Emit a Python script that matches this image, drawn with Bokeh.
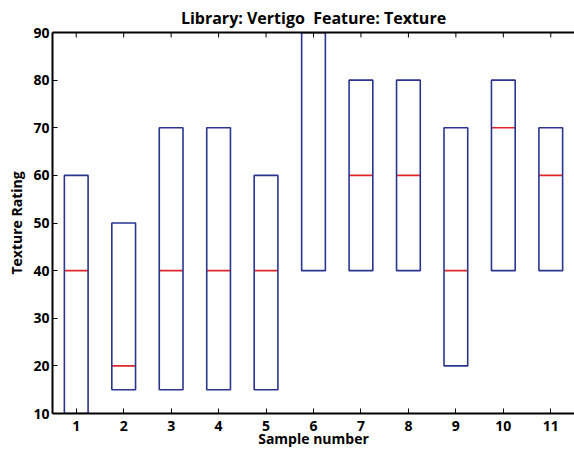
import math
from bokeh.plotting import figure
from bokeh.models import ColumnDataSource, Range1d, FixedTicker, Title, LinearAxis
from bokeh.transform import dodge
from bokeh.embed import file_html
from bokeh.resources import INLINE

# Data
samples = [1, 2, 3, 4, 5, 6, 7, 8, 9, 10, 11]
q1 = [10, 15, 15, 15, 15, 40, 40, 40, 20, 40, 40]
median = [40, 20, 40, 40, 40, 90, 60, 60, 40, 70, 60]
q3 = [60, 50, 70, 70, 60, 90, 80, 80, 70, 80, 70]
y_ticks = [10, 20, 30, 40, 50, 60, 70, 80, 90]

title_text = "Library: Vertigo\u00a0 Feature: Texture"
x_label = "Sample number"
y_label = "Texture Rating"

BOX = "#2a3590"
MED = "#e0262b"
FONT = "Open Sans"

x_lo, x_hi = samples[0] - 0.5, samples[-1] + 0.5
src = ColumnDataSource(dict(x=samples, q1=q1, med=median, q3=q3))
top_src = ColumnDataSource(dict(x=samples, y=[y_ticks[-1]] * len(samples)))

p = figure(
    frame_width=522, frame_height=381,
    x_range=Range1d(x_lo, x_hi), y_range=Range1d(y_ticks[0], y_ticks[-1]),
    output_backend="svg", toolbar_location=None, title=None,
    min_border_left=52, min_border_right=0, min_border_top=31, min_border_bottom=37,
)
p.outline_line_color = None
p.background_fill_color = "white"
p.border_fill_color = "white"
p.xgrid.visible = False
p.ygrid.visible = False

# medians then boxes
p.segment(x0=dodge("x", -0.25), x1=dodge("x", 0.25), y0="med", y1="med",
          source=src, line_color=MED, line_width=1.6)
p.vbar(x="x", width=0.5, bottom="q1", top="q3", source=src,
       fill_color=None, line_color=BOX, line_width=1.6)

# inward tick marks on the top spine (clipped by the frame)
p.scatter(x="x", y="y", source=top_src, marker="dash", angle=math.pi / 2,
          size=10, line_color="black", line_width=1)


def style(ax):
    ax.axis_line_color = "black"
    ax.axis_line_width = 2
    ax.major_tick_in = 5
    ax.major_tick_out = 0
    ax.minor_tick_line_color = None
    ax.major_tick_line_color = "black"
    ax.major_tick_line_width = 1
    ax.major_label_text_font = FONT
    ax.major_label_text_font_style = "bold"
    ax.major_label_text_font_size = "14px"
    ax.major_label_text_color = "black"
    ax.axis_label_text_font = FONT
    ax.axis_label_text_font_style = "bold"
    ax.axis_label_text_font_size = "14px"
    ax.axis_label_text_color = "black"


xa = p.xaxis[0]
ya = p.yaxis[0]
xa.ticker = FixedTicker(ticks=samples)
ya.ticker = FixedTicker(ticks=y_ticks)
style(xa)
style(ya)
xa.axis_label = x_label
ya.axis_label = y_label
xa.major_label_standoff = 7
xa.axis_label_standoff = -5
ya.major_label_standoff = 3
ya.axis_label_standoff = 4

# top spine only (no ticks, no labels)
top = LinearAxis(ticker=FixedTicker(ticks=[]), axis_line_color="black", axis_line_width=2,
                 major_tick_in=0, major_tick_out=0, minor_tick_line_color=None,
                 major_label_standoff=0, axis_label_standoff=0)
p.add_layout(top, "above")

t = Title(text=title_text, align="center", text_font=FONT, text_font_style="bold",
          text_font_size="16px", text_color="black", standoff=8, offset=0)
p.add_layout(t, "above")

open("out.html", "w").write(file_html(p, INLINE))
